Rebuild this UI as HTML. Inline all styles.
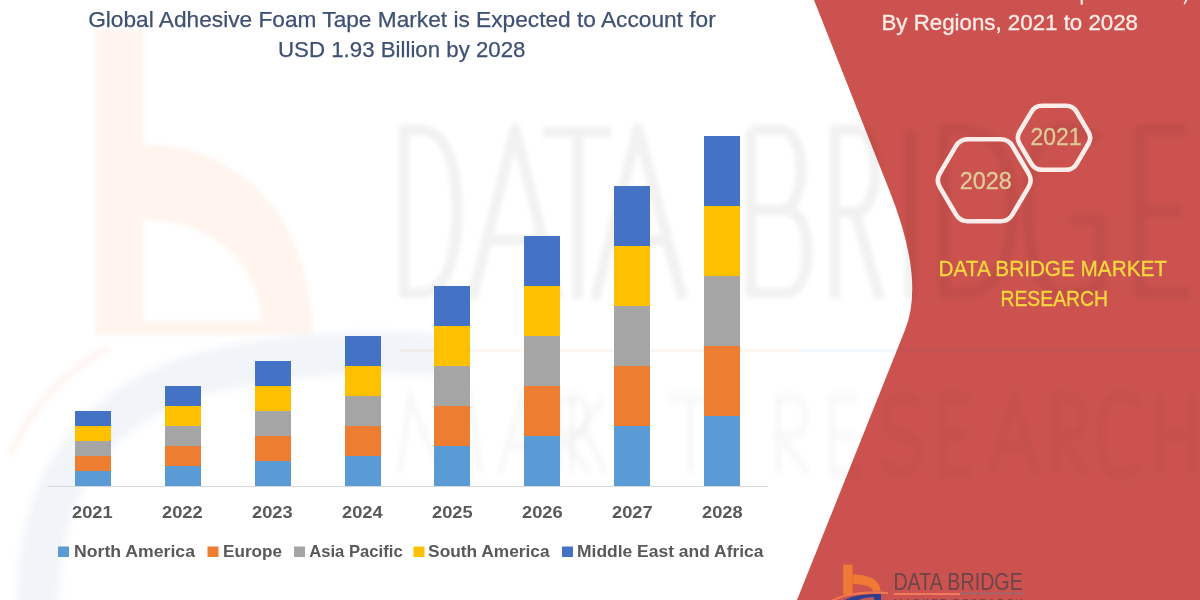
<!DOCTYPE html>
<html><head><meta charset="utf-8">
<style>
html,body{margin:0;padding:0;background:#fff;width:1200px;height:600px;overflow:hidden}
svg{display:block;will-change:transform}
text{font-family:"Liberation Sans",sans-serif}
</style></head>
<body>
<svg width="1200" height="600" viewBox="0 0 1200 600">
<defs><filter id="bl" x="-10%" y="-10%" width="120%" height="120%"><feGaussianBlur stdDeviation="2.2"/></filter>
<filter id="bl2" x="-10%" y="-10%" width="120%" height="120%"><feGaussianBlur stdDeviation="4"/></filter></defs>
<rect x="0" y="0" width="1200" height="600" fill="#ffffff"/>

<!-- red panel -->
<path id="panel" d="M814,0 L890,192 Q925,280.5 905,330 L797,600 L1200,600 L1200,0 Z" fill="#CB524E"/>

<!-- faint logo watermark left -->
<g fill="#FFF4EE" filter="url(#bl)">
<rect x="95" y="30" width="48" height="305"/>
<path d="M143,145 C235,142 312,215 312,335 L143,335 L143,321 L261,321 C259,265 215,220 143,220 Z"/>
</g>
<g fill="none">
<path d="M38,610 C36,500 80,410 200,374 C280,352 380,350 460,356" stroke="#F1F4F8" stroke-width="42" filter="url(#bl2)"/>
<path d="M10,455 C30,410 60,372 110,348" stroke="#FFF6F3" stroke-width="8" filter="url(#bl)"/>
</g>
<!-- faint DATA BRIDGE watermark -->
<g fill="none" stroke="#000" stroke-opacity="0.05" stroke-width="11" stroke-linejoin="round" filter="url(#bl)">
<path d="M404,130 L420,130 C448,130 457,170 457,211 C457,252 448,293 420,293 L404,293 Z"/>
<path d="M472,299 L515,129 L558,299 M488,240 L542,240"/>
<path d="M543,132 L611,132 M578,132 L578,299"/>
<path d="M595,299 L638,129 L683,299 M611,240 L667,240"/>
<path d="M751,130 L751,293 L785,293 C815,293 815,210 785,210 L751,210 M751,130 L780,130 C808,130 808,210 780,210"/>
<path d="M835,299 L835,130 L855,130 C882,130 882,212 855,212 L835,212 M855,212 L880,299"/>
<path d="M910,130 L910,299"/>
<path d="M944,130 L960,130 C1002,130 1012,170 1012,211 C1012,252 1002,293 960,293 L944,293 Z"/>
<path d="M1098,140 C1085,130 1075,128 1065,128 C1035,128 1028,170 1028,211 C1028,255 1040,294 1065,294 C1080,294 1092,290 1100,285 L1100,220 L1070,220"/>
<path d="M1185,130 L1140,130 L1140,293 L1188,293 M1140,211 L1180,211"/>
</g>
<g fill="none" stroke="#000" stroke-opacity="0.026" stroke-width="6" filter="url(#bl)" transform="translate(0,398) scale(1,1.37) translate(0,-405)">
<path d="M400,459 L410,405 L440,459 L470,405 L480,459"/>
<path d="M500,459 L522,405 L544,459 M508,440 L536,440"/>
<path d="M560,459 L560,405 L575,405 C592,405 592,432 575,432 L560,432 L590,459"/>
<path d="M572,405 L572,459 M604,405 L574,435 M582,425 L606,459"/>
<path d="M648,405 L622,405 L622,459 L650,459 M622,432 L645,432"/>
<path d="M668,405 L712,405 M690,405 L690,459"/>
<path d="M778,459 L778,405 L793,405 C810,405 810,432 793,432 L778,432 L808,459"/>
<path d="M858,405 L832,405 L832,459 L860,459 M832,432 L855,432"/>
<path d="M918,410 C905,400 885,405 885,418 C885,440 918,425 918,445 C918,462 895,462 883,452"/>
<path d="M968,405 L942,405 L942,459 L970,459 M942,432 L965,432"/>
<path d="M992,459 L1014,405 L1036,459 M1000,440 L1028,440"/>
<path d="M1056,459 L1056,405 L1071,405 C1088,405 1088,432 1071,432 L1056,432 L1086,459"/>
<path d="M1140,410 C1130,403 1125,403 1120,403 C1105,403 1100,420 1100,432 C1100,445 1105,461 1120,461 C1128,461 1135,458 1140,455"/>
<path d="M1160,405 L1160,459 M1192,405 L1192,459 M1160,432 L1192,432"/>
</g>
<rect x="400" y="349" width="400" height="3" fill="#F07A35" fill-opacity="0.07"/>
<rect x="800" y="349" width="400" height="3" fill="#2F5FAF" fill-opacity="0.05"/>

<!-- title -->
<g fill="#3E5073" font-size="22.5" stroke="#3E5073" stroke-width="0.25">
<text x="88.2" y="27" textLength="627.5" lengthAdjust="spacingAndGlyphs">Global Adhesive Foam Tape Market is Expected to Account for</text>
<text x="278" y="57" textLength="247.5" lengthAdjust="spacingAndGlyphs">USD 1.93 Billion by 2028</text>
</g>

<!-- axis -->
<rect x="48" y="486" width="720" height="1" fill="#D9D9D9"/>

<!-- bars -->
<g>
<rect x="75" y="411" width="36" height="15" fill="#4472C4"/>
<rect x="75" y="426" width="36" height="15" fill="#FFC000"/>
<rect x="75" y="441" width="36" height="15" fill="#A5A5A5"/>
<rect x="75" y="456" width="36" height="15" fill="#ED7D31"/>
<rect x="75" y="471" width="36" height="15" fill="#5B9BD5"/>

<rect x="165" y="386" width="36" height="20" fill="#4472C4"/>
<rect x="165" y="406" width="36" height="20" fill="#FFC000"/>
<rect x="165" y="426" width="36" height="20" fill="#A5A5A5"/>
<rect x="165" y="446" width="36" height="20" fill="#ED7D31"/>
<rect x="165" y="466" width="36" height="20" fill="#5B9BD5"/>

<rect x="255" y="361" width="36" height="25" fill="#4472C4"/>
<rect x="255" y="386" width="36" height="25" fill="#FFC000"/>
<rect x="255" y="411" width="36" height="25" fill="#A5A5A5"/>
<rect x="255" y="436" width="36" height="25" fill="#ED7D31"/>
<rect x="255" y="461" width="36" height="25" fill="#5B9BD5"/>

<rect x="345" y="336" width="36" height="30" fill="#4472C4"/>
<rect x="345" y="366" width="36" height="30" fill="#FFC000"/>
<rect x="345" y="396" width="36" height="30" fill="#A5A5A5"/>
<rect x="345" y="426" width="36" height="30" fill="#ED7D31"/>
<rect x="345" y="456" width="36" height="30" fill="#5B9BD5"/>

<rect x="434" y="286" width="36" height="40" fill="#4472C4"/>
<rect x="434" y="326" width="36" height="40" fill="#FFC000"/>
<rect x="434" y="366" width="36" height="40" fill="#A5A5A5"/>
<rect x="434" y="406" width="36" height="40" fill="#ED7D31"/>
<rect x="434" y="446" width="36" height="40" fill="#5B9BD5"/>

<rect x="524" y="236" width="36" height="50" fill="#4472C4"/>
<rect x="524" y="286" width="36" height="50" fill="#FFC000"/>
<rect x="524" y="336" width="36" height="50" fill="#A5A5A5"/>
<rect x="524" y="386" width="36" height="50" fill="#ED7D31"/>
<rect x="524" y="436" width="36" height="50" fill="#5B9BD5"/>

<rect x="614" y="186" width="36" height="60" fill="#4472C4"/>
<rect x="614" y="246" width="36" height="60" fill="#FFC000"/>
<rect x="614" y="306" width="36" height="60" fill="#A5A5A5"/>
<rect x="614" y="366" width="36" height="60" fill="#ED7D31"/>
<rect x="614" y="426" width="36" height="60" fill="#5B9BD5"/>

<rect x="704" y="136" width="36" height="70" fill="#4472C4"/>
<rect x="704" y="206" width="36" height="70" fill="#FFC000"/>
<rect x="704" y="276" width="36" height="70" fill="#A5A5A5"/>
<rect x="704" y="346" width="36" height="70" fill="#ED7D31"/>
<rect x="704" y="416" width="36" height="70" fill="#5B9BD5"/>
</g>

<!-- year labels -->
<g fill="#595959" font-size="16" font-weight="bold">
<text x="72" y="518" textLength="40.6" lengthAdjust="spacingAndGlyphs">2021</text>
<text x="162" y="518" textLength="40.6" lengthAdjust="spacingAndGlyphs">2022</text>
<text x="252" y="518" textLength="40.6" lengthAdjust="spacingAndGlyphs">2023</text>
<text x="342" y="518" textLength="40.6" lengthAdjust="spacingAndGlyphs">2024</text>
<text x="432" y="518" textLength="40.6" lengthAdjust="spacingAndGlyphs">2025</text>
<text x="522" y="518" textLength="40.6" lengthAdjust="spacingAndGlyphs">2026</text>
<text x="612" y="518" textLength="40.6" lengthAdjust="spacingAndGlyphs">2027</text>
<text x="702" y="518" textLength="40.6" lengthAdjust="spacingAndGlyphs">2028</text>
</g>

<!-- legend -->
<g font-size="16.5" font-weight="bold" fill="#595959">
<rect x="58" y="546.5" width="11" height="10.5" fill="#5B9BD5"/>
<text x="74" y="556.7" textLength="121" lengthAdjust="spacingAndGlyphs">North America</text>
<rect x="207.5" y="546.5" width="11" height="10.5" fill="#ED7D31"/>
<text x="223" y="556.7" textLength="59" lengthAdjust="spacingAndGlyphs">Europe</text>
<rect x="294" y="546.5" width="11" height="10.5" fill="#A5A5A5"/>
<text x="309.2" y="556.7" textLength="93.5" lengthAdjust="spacingAndGlyphs">Asia Pacific</text>
<rect x="413.5" y="546.5" width="11" height="10.5" fill="#FFC000"/>
<text x="428.1" y="556.7" textLength="121.5" lengthAdjust="spacingAndGlyphs">South America</text>
<rect x="562" y="546.5" width="11" height="10.5" fill="#4472C4"/>
<text x="577" y="556.7" textLength="186.5" lengthAdjust="spacingAndGlyphs">Middle East and Africa</text>
</g>

<!-- right panel content -->
<g fill="#FBEAE6" font-size="21.8" stroke="#FBEAE6" stroke-width="0.35">
<text x="881.5" y="29.8" textLength="256.5" lengthAdjust="spacingAndGlyphs">By Regions, 2021 to 2028</text>
</g>

<!-- bottom logo -->
<g>
<rect x="843.2" y="564.6" width="9.4" height="30" fill="#F07A35"/>
<path d="M852.6,574.4 C870,574.4 880.5,580 880.5,591.5 L873.3,591.5 C873,587 864,584 852.6,584 Z" fill="#F07A35"/>
<path d="M843,601 C851,595.5 865,594 881,594 L881,601 Z" fill="#2F3F8F"/>
<path d="M857,601 C862,598 868,597.3 874,597.3 L874,601 Z" fill="#B85A5E"/>
<path d="M830,601.5 C845,593 868,591.5 888,593" fill="none" stroke="#F07A50" stroke-width="2"/>
<text x="893.4" y="589.5" font-size="23.5" fill="#6A454A" textLength="129.4" lengthAdjust="spacingAndGlyphs">DATA BRIDGE</text>
<rect x="893.7" y="593" width="66.3" height="2" fill="#EE7A5A"/>
<rect x="960" y="592.6" width="63.5" height="1.6" fill="#9A6A72"/>
<text x="894" y="606.5" font-size="10" fill="#6A454A" textLength="129" lengthAdjust="spacing">MARKET RESEARCH</text>
</g>
<!-- cut-off top line descenders -->
<rect x="1080.6" y="0" width="2.2" height="4.6" fill="#FBEAE6"/>
<path d="M1185.2,0 L1187.4,0 L1184.8,4.4 L1183.6,4.2 Z" fill="#FBEAE6"/>

<!-- hexagons -->
<g fill="none" stroke="#FCEDEB" stroke-width="4.6">
<path d="M1019.6,143.8 Q1016.0,137.8 1019.6,131.8 L1031.4,111.8 Q1035.0,105.8 1042.0,105.8 L1066.0,105.8 Q1073.0,105.8 1076.6,111.8 L1088.4,131.8 Q1092.0,137.8 1088.4,143.8 L1076.6,163.8 Q1073.0,169.8 1066.0,169.8 L1042.0,169.8 Q1035.0,169.8 1031.4,163.8 Z"/>
<path d="M939.8,187.2 Q935.7,180.3 939.8,173.4 L955.9,146.2 Q960.0,139.3 968.0,139.3 L1000.5,139.3 Q1008.5,139.3 1012.5,146.2 L1028.6,173.4 Q1032.7,180.3 1028.6,187.2 L1012.5,214.4 Q1008.5,221.3 1000.5,221.3 L968.0,221.3 Q960.0,221.3 955.9,214.4 Z"/>
</g>
<g fill="#DFCB9A" font-size="23" stroke="#DFCB9A" stroke-width="0.3">
<text x="1030.5" y="145.2" textLength="51" lengthAdjust="spacingAndGlyphs">2021</text>
<text x="959.8" y="189" textLength="52" lengthAdjust="spacingAndGlyphs">2028</text>
</g>

<g fill="#F7D83C" font-size="22" stroke="#F7D83C" stroke-width="0.35">
<text x="938.5" y="275.7" textLength="228.5" lengthAdjust="spacingAndGlyphs">DATA BRIDGE MARKET</text>
<text x="1000.5" y="305.7" textLength="107.5" lengthAdjust="spacingAndGlyphs">RESEARCH</text>
</g>

</svg>
</body></html>
